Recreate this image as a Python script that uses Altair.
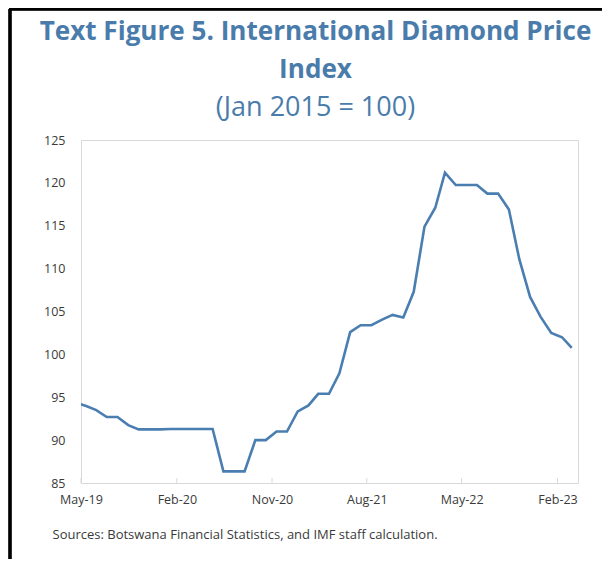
import altair as alt
import pandas as pd

# Monthly index values (dated mid-month), Apr-2019 .. Mar-2023
months = [
    "2019-04-14", "2019-05-14", "2019-06-14", "2019-07-14", "2019-08-14", "2019-09-14",
    "2019-10-14", "2019-11-14", "2019-12-14", "2020-01-14", "2020-02-14", "2020-03-14",
    "2020-04-14", "2020-05-14", "2020-06-14", "2020-07-14", "2020-08-14", "2020-09-14",
    "2020-10-14", "2020-11-14", "2020-12-14", "2021-01-14", "2021-02-14", "2021-03-14",
    "2021-04-14", "2021-05-14", "2021-06-14", "2021-07-14", "2021-08-14", "2021-09-14",
    "2021-10-14", "2021-11-14", "2021-12-14", "2022-01-14", "2022-02-14", "2022-03-14",
    "2022-04-14", "2022-05-14", "2022-06-14", "2022-07-14", "2022-08-14", "2022-09-14",
    "2022-10-14", "2022-11-14", "2022-12-14", "2023-01-14", "2023-02-14", "2023-03-14",
]
index_values = [
    94.4, 94.0, 93.5, 92.7, 92.7, 91.75,
    91.25, 91.25, 91.25, 91.3, 91.3, 91.3,
    91.3, 91.3, 86.35, 86.35, 86.35, 90.0,
    90.0, 91.0, 91.0, 93.35, 94.05, 95.4,
    95.4, 97.8, 102.6, 103.4, 103.4, 104.05,
    104.6, 104.3, 107.3, 114.9, 117.1, 121.2,
    119.75, 119.75, 119.75, 118.75, 118.75, 116.9,
    111.1, 106.7, 104.4, 102.5, 102.0, 100.75,
]
tick_dates = ["2019-05-01", "2020-02-01", "2020-11-01", "2021-08-01", "2022-05-01", "2023-02-01"]
y_ticks = [85, 90, 95, 100, 105, 110, 115, 120, 125]

W, H = 497, 343
BLUE = "#4a7cab"
LINE = "#4a7eb1"
FRAME = "#d9d9d9"
TXT = "#3a3a3a"


def dt(s):
    y, m, d = (int(p) for p in s.split("-"))
    return alt.DateTime(year=y, month=m, date=d, utc=True)


df = pd.DataFrame({"date": months, "value": index_values})
ticks_df = pd.DataFrame({"tick": tick_dates})

xscale = alt.Scale(type="utc", domain=[dt("2019-05-01"), dt("2023-04-01")])

line = alt.Chart(df).mark_line(color=LINE, strokeWidth=2.6, clip=True).encode(
    x=alt.X(
        "date:T",
        scale=xscale,
        axis=alt.Axis(
            values=[dt(t) for t in tick_dates],
            format="%b-%y",
            ticks=False,
            grid=False,
            domain=False,
            labelFlush=False,
            labelPadding=10,
            labelFont="Open Sans",
            labelFontSize=12.5,
            labelColor=TXT,
            title="Sources: Botswana Financial Statistics, and IMF staff calculation.",
            titleFont="Open Sans",
            titleFontSize=13,
            titleFontWeight="normal",
            titleColor=TXT,
            titleAnchor="start",
            titleAlign="left",
            titleBaseline="alphabetic",
            titleX=-29,
            titleY=55,
        ),
    ),
    y=alt.Y(
        "value:Q",
        scale=alt.Scale(domain=[85, 125], nice=False),
        axis=alt.Axis(
            values=y_ticks,
            ticks=False,
            grid=False,
            domain=False,
            labelPadding=16,
            labelFont="Open Sans",
            labelFontSize=12.5,
            labelColor=TXT,
            title=None,
        ),
    ),
)

xticks = alt.Chart(ticks_df).mark_rule(color=FRAME, strokeWidth=1).encode(
    x=alt.X("tick:T", scale=xscale),
    y=alt.value(H - 5),
    y2=alt.value(H),
)

border_left = alt.Chart(ticks_df).mark_rule(color="black", strokeWidth=2.5).encode(
    x=alt.value(-71),
    y=alt.value(-131),
    y2=alt.value(H + 80),
)
border_top = alt.Chart(ticks_df).mark_rule(color="black", strokeWidth=2.5).encode(
    x=alt.value(-72),
    x2=alt.value(W + 40),
    y=alt.value(-131),
)

chart = (
    alt.layer(xticks, line, border_left, border_top)
    .properties(
        width=W,
        height=H,
        autosize=alt.AutoSizeParams(type="none"),
        padding={"left": 73, "top": 132, "right": 24, "bottom": 76},
        title=alt.TitleParams(
            text=["Text Figure 5. International Diamond Price", "Index"],
            subtitle="(Jan 2015 = 100)",
            font="Open Sans",
            fontSize=26.1,
            fontWeight="bold",
            color=BLUE,
            lineHeight=38,
            subtitleFont="Open Sans",
            subtitleFontSize=27,
            subtitleFontWeight="normal",
            subtitleColor=BLUE,
            subtitlePadding=12,
            anchor="middle",
            dx=-14,
            offset=-113,
        ),
    )
    .configure_view(stroke=FRAME, strokeWidth=1)
)

chart.save("out.html", embed_options={"renderer": "svg", "actions": False})
